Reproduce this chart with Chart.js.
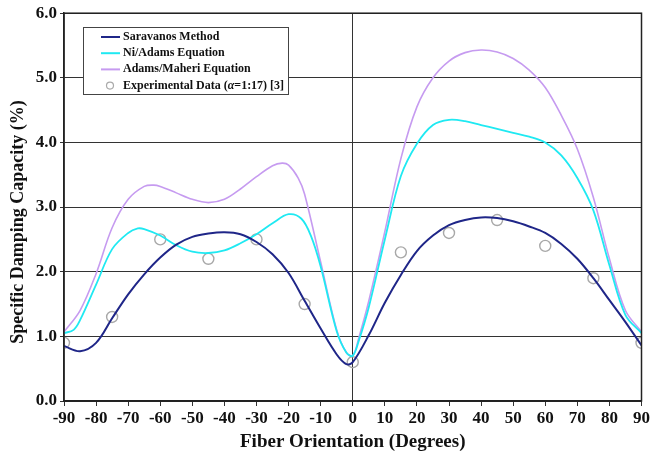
<!DOCTYPE html>
<html>
<head>
<meta charset="utf-8">
<script src="https://cdn.jsdelivr.net/npm/chart.js@4.4.0/dist/chart.umd.min.js"></script>
<style>
  html, body { margin: 0; padding: 0; background: #fff; }
  #wrap { width: 652px; height: 455px; }
</style>
</head>
<body>
<div id="wrap"><canvas id="chart" width="652" height="455"></canvas></div>
<script>
// -------------------- Data --------------------
const saravanosX = [-90, -85, -80, -75, -70, -65, -60, -55, -50, -45, -40, -35, -30, -25, -20, -15, -10, -5, -2, 0, 5, 10, 15, 20, 25, 30, 35, 40, 45, 50, 55, 60, 65, 70, 75, 80, 85, 90];
const saravanosY = [0.85, 0.77, 0.90, 1.28, 1.65, 1.96, 2.22, 2.42, 2.54, 2.59, 2.61, 2.58, 2.46, 2.27, 1.98, 1.55, 1.12, 0.72, 0.57, 0.60, 1.02, 1.52, 1.95, 2.32, 2.56, 2.72, 2.80, 2.84, 2.83, 2.78, 2.70, 2.60, 2.43, 2.20, 1.90, 1.56, 1.22, 0.86];

const niAdamsX = [-90, -87, -85, -80, -75, -70, -67, -65, -60, -55, -50, -45, -40, -35, -30, -25, -20, -16, -13, -10, -5, -2, 0, 2, 5, 10, 15, 20, 25, 30, 35, 40, 45, 50, 55, 60, 65, 70, 75, 80, 85, 90];
const niAdamsY = [1.05, 1.10, 1.25, 1.80, 2.35, 2.60, 2.67, 2.66, 2.56, 2.41, 2.31, 2.29, 2.33, 2.44, 2.58, 2.75, 2.89, 2.82, 2.55, 2.08, 1.08, 0.75, 0.70, 0.95, 1.45, 2.50, 3.48, 3.98, 4.27, 4.35, 4.33, 4.27, 4.21, 4.15, 4.09, 4.00, 3.80, 3.45, 2.95, 2.10, 1.33, 1.05];

const adamsMaheriX = [-90, -85, -80, -75, -70, -65, -62, -60, -55, -50, -45, -40, -35, -30, -25, -22, -20, -17, -15, -10, -5, -2, 0, 2, 5, 10, 15, 20, 25, 30, 35, 40, 45, 50, 55, 60, 65, 70, 75, 80, 85, 90];
const adamsMaheriY = [1.07, 1.40, 1.97, 2.68, 3.12, 3.32, 3.34, 3.32, 3.22, 3.12, 3.07, 3.12, 3.28, 3.47, 3.64, 3.68, 3.65, 3.45, 3.20, 2.15, 1.10, 0.75, 0.70, 1.00, 1.55, 2.62, 3.75, 4.55, 5.00, 5.26, 5.39, 5.43, 5.40, 5.30, 5.12, 4.85, 4.42, 3.90, 3.15, 2.20, 1.40, 1.07];

const experimentX = [-90, -75, -60, -45, -30, -15, 0, 15, 30, 45, 60, 75, 90];
const experimentY = [0.90, 1.30, 2.50, 2.20, 2.50, 1.50, 0.60, 2.30, 2.60, 2.80, 2.40, 1.90, 0.90];

const seriesLabels = ["Saravanos Method", "Ni/Adams Equation", "Adams/Maheri Equation", "Experimental Data (α=1:17) [3]"];
const yTitle = "Specific Damping Capacity (%)";

const FONT = "'Liberation Serif', 'Times New Roman', serif";

function pts(xs, ys) {
  return xs.map((x, i) => ({ x: x, y: ys[i] }));
}

// -------------------- Plugins --------------------
// black frame around the plot area + the y title (sits a bit low in the original)
const framePlugin = {
  id: "frame",
  afterDraw(chart) {
    const a = chart.chartArea, c = chart.ctx;
    c.save();
    c.strokeStyle = "#222";
    c.lineWidth = 1.5;
    c.strokeRect(a.left, a.top, a.right - a.left, a.bottom - a.top);
    c.translate(18, 222);
    c.rotate(-Math.PI / 2);
    c.font = "bold 18px " + FONT;
    c.fillStyle = "#111";
    c.textAlign = "center";
    c.textBaseline = "middle";
    c.fillText(yTitle, 0, 0);
    c.restore();
  }
};

// legend box drawn inside the plot, upper left
const boxLegend = {
  id: "boxLegend",
  afterDraw(chart) {
    const c = chart.ctx;
    const x0 = 83, y0 = 27, w = 205, h = 67;
    c.save();
    c.fillStyle = "#fff";
    c.fillRect(x0, y0, w, h);
    c.strokeStyle = "#444";
    c.lineWidth = 1;
    c.strokeRect(x0 + 0.5, y0 + 0.5, w, h);
    c.textBaseline = "middle";
    chart.data.datasets.forEach((ds, i) => {
      const y = y0 + 10 + i * 16.2;
      if (ds.showLine === false) {
        c.beginPath();
        c.arc(110, y, 3.5, 0, Math.PI * 2);
        c.strokeStyle = "#aaa";
        c.lineWidth = 1.2;
        c.stroke();
      } else {
        c.beginPath();
        c.moveTo(101, y);
        c.lineTo(120, y);
        c.strokeStyle = ds.borderColor;
        c.lineWidth = 2;
        c.stroke();
      }
      c.fillStyle = "#111";
      let tx = 123;
      const parts = ds.label.split("α");
      c.font = "bold 12px " + FONT;
      c.fillText(parts[0], tx, y);
      if (parts.length > 1) {
        tx += c.measureText(parts[0]).width;
        c.font = "italic bold 12px " + FONT;
        c.fillText("α", tx, y);
        tx += c.measureText("α").width;
        c.font = "bold 12px " + FONT;
        c.fillText(parts[1], tx, y);
      }
    });
    c.restore();
  }
};

// -------------------- Chart --------------------
const ctx = document.getElementById("chart").getContext("2d");
const chart = new Chart(ctx, {
  type: "line",
  data: {
    datasets: [
      {
        label: seriesLabels[0],
        data: pts(saravanosX, saravanosY),
        borderColor: "#1f2688",
        borderWidth: 2,
        pointRadius: 0,
        tension: 0.35,
      },
      {
        label: seriesLabels[1],
        data: pts(niAdamsX, niAdamsY),
        borderColor: "#1fe9f2",
        borderWidth: 1.8,
        pointRadius: 0,
        tension: 0.35,
      },
      {
        label: seriesLabels[2],
        data: pts(adamsMaheriX, adamsMaheriY),
        borderColor: "#c69bf0",
        borderWidth: 1.6,
        pointRadius: 0,
        tension: 0.35,
      },
      {
        label: seriesLabels[3],
        data: pts(experimentX, experimentY),
        showLine: false,
        borderColor: "#a8a8a8",
        backgroundColor: "rgba(255,255,255,0)",
        pointRadius: 5.5,
        pointBorderWidth: 1.4,
      },
    ],
  },
  options: {
    responsive: false,
    animation: false,
    layout: { padding: { left: 0, right: 9, top: 12, bottom: 0 } },
    plugins: {
      legend: { display: false },
      tooltip: { enabled: false },
    },
    scales: {
      x: {
        type: "linear",
        min: -90,
        max: 90,
        ticks: {
          stepSize: 10,
          color: "#111",
          padding: 2,
          font: { family: FONT, size: 17, weight: "bold" },
        },
        grid: {
          color: (c) => (c.tick && c.tick.value === 0 ? "#333" : "rgba(0,0,0,0)"),
          tickColor: "#333",
          tickLength: 5,
          lineWidth: 1,
        },
        border: { color: "#222", width: 1.5 },
        title: {
          display: true,
          text: "Fiber Orientation (Degrees)",
          color: "#111",
          padding: { top: 0, bottom: 2 },
          font: { family: FONT, size: 19, weight: "bold" },
        },
        afterFit: (s) => { s.height = 54; },
      },
      y: {
        min: 0,
        max: 6,
        ticks: {
          stepSize: 1,
          color: "#111",
          padding: 3,
          callback: (v) => v.toFixed(1),
          font: { family: FONT, size: 17, weight: "bold" },
        },
        grid: {
          color: "#333",
          tickColor: "#333",
          tickLength: 4,
          lineWidth: 1,
        },
        border: { color: "#222", width: 1.5 },
        afterFit: (s) => { s.width = 64; },
      },
    },
  },
  plugins: [framePlugin, boxLegend],
});
</script>
</body>
</html>
